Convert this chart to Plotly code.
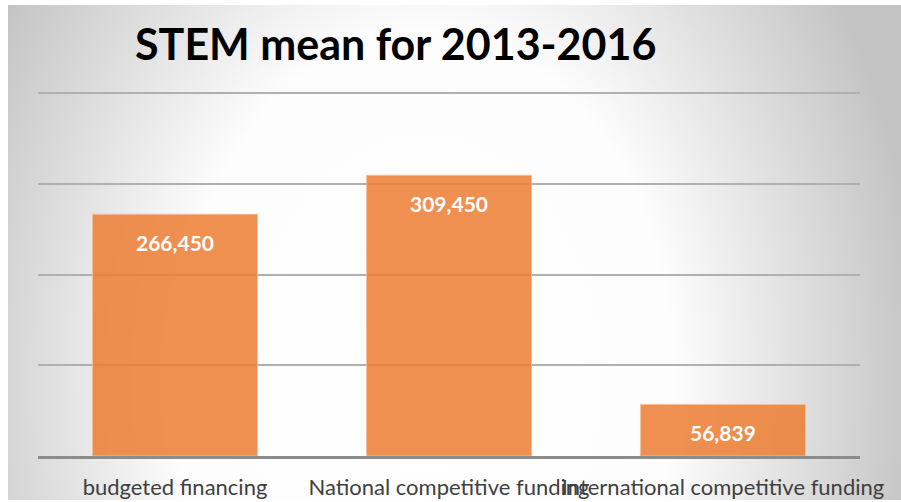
import base64
import plotly.graph_objects as go

categories = ["budgeted financing", "National competitive funding", "International competitive funding"]
values = [266450, 309450, 56839]
value_labels = ["266,450", "309,450", "56,839"]
title_text = "STEM mean for 2013-2016"
grid_values = [100000, 200000, 300000, 400000]

svg = """<svg xmlns='http://www.w3.org/2000/svg' width='900' height='500' viewBox='0 0 900 500' preserveAspectRatio='none'>
<defs><radialGradient id='g' cx='420' cy='380' r='500' gradientUnits='userSpaceOnUse'
 gradientTransform='translate(420 380) scale(1 1.4) translate(-420 -380)'>
<stop offset='0' stop-color='#ffffff'/><stop offset='0.5' stop-color='#fdfdfd'/><stop offset='1' stop-color='#c4c4c4'/></radialGradient></defs>
<rect x='0' y='0' width='900' height='500' fill='url(#g)'/></svg>"""
bg_src = "data:image/svg+xml;base64," + base64.b64encode(svg.encode()).decode()

fig = go.Figure()
fig.add_trace(go.Bar(
    x=categories, y=values,
    marker=dict(color="rgba(236,125,49,0.85)", line=dict(color="rgba(248,190,150,0.9)", width=1)),
    hoverinfo="skip",
))

for c, v, t in zip(categories, values, value_labels):
    fig.add_annotation(x=c, y=v, text="<b>" + t + "</b>", showarrow=False,
                       yanchor="middle", yshift=-28,
                       font=dict(family="Lato", size=21, color="white"))

# figure sits at page offset (8, 5)
W, H = 893, 495
L, R, T, B = 30, 41, 79, 44
fig.add_layout_image(dict(
    source=bg_src, xref="paper", yref="paper",
    x=0, y=1, sizex=1, sizey=1,
    xanchor="left", yanchor="top", sizing="stretch", layer="below",
))
fig.update_layout(images=[dict(source=bg_src, xref="x domain", yref="y domain",
                               x=-L / (W - L - R), y=1 + T / (H - T - B),
                               sizex=W / (W - L - R), sizey=H / (H - T - B),
                               xanchor="left", yanchor="top", sizing="stretch", layer="below")])

fig.update_layout(
    width=W, height=H,
    margin=dict(l=L, r=R, t=T, b=B, autoexpand=False),
    paper_bgcolor="white", plot_bgcolor="rgba(0,0,0,0)",
    bargap=0.398,
    showlegend=False,
    title=dict(text="<b>" + title_text + "</b>", x=127 / W, xanchor="left",
               xref="container", y=1 - 40 / H, yanchor="middle", yref="container",
               font=dict(family="Lato", size=43, color="black")),
    xaxis=dict(tickangle=0, showline=True, linecolor="#8c8c8c", linewidth=3,
               tickfont=dict(family="Lato", size=22, color="#404040"),
               ticklabelstandoff=10, showgrid=False, fixedrange=True, automargin=False),
    yaxis=dict(range=[0, 410000], tickvals=grid_values, showticklabels=False,
               gridcolor="#b0b0b0", gridwidth=2, zeroline=False, fixedrange=True, automargin=False),
)

fig.write_html("out.html", post_script="document.body.style.margin='5px 0 0 8px';")
